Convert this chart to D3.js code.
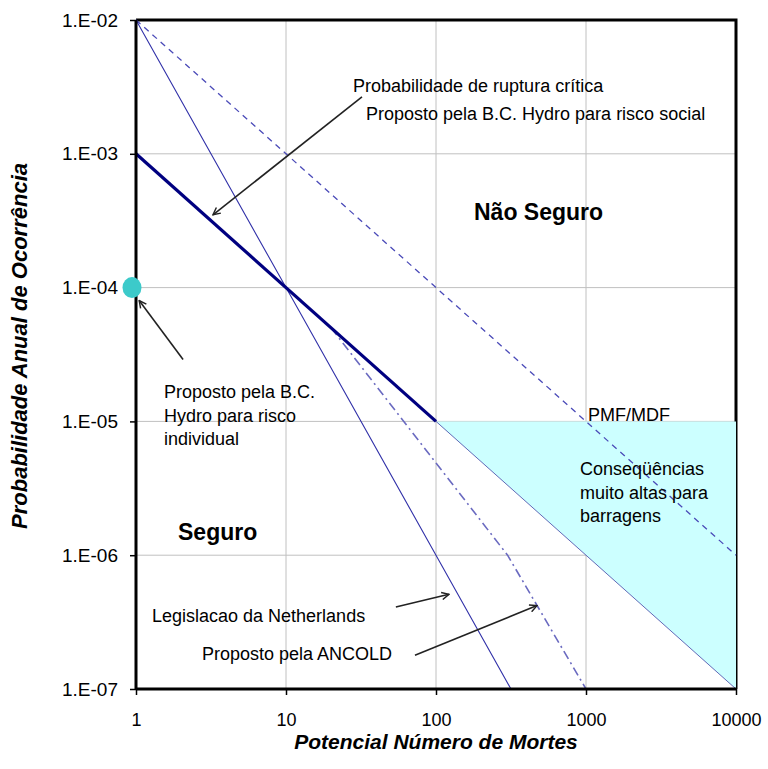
<!DOCTYPE html>
<html>
<head>
<meta charset="utf-8">
<script src="https://cdn.jsdelivr.net/npm/d3@7"></script>
<style>
  html, body { margin: 0; padding: 0; background: #fff; }
  svg { display: block; }
  text { font-family: "Liberation Sans", Arial, sans-serif; fill: #000; }
</style>
</head>
<body>
<svg id="chart" width="768" height="769"></svg>
<script>
// ---- data ----
const xTickValues = [1, 10, 100, 1000, 10000];
const xTickLabels = ["1", "10", "100", "1000", "10000"];
const yTickValues = [1e-2, 1e-3, 1e-4, 1e-5, 1e-6, 1e-7];
const yTickLabels = ["1.E-02", "1.E-03", "1.E-04", "1.E-05", "1.E-06", "1.E-07"];

// Legislacao da Netherlands (thin solid)
const netherlandsX = [1, 10, 100, 316];
const netherlandsY = [1e-2, 1e-4, 1e-6, 1e-7];
// Proposto pela B.C. Hydro para risco social (thick)
const bcHydroX = [1, 100];
const bcHydroY = [1e-3, 1e-5];
// PMF/MDF (dashed)
const pmfX = [1, 10000];
const pmfY = [1e-2, 1e-6];
// Proposto pela ANCOLD (dash-dot)
const ancoldX = [20, 300, 1000];
const ancoldY = [5e-5, 1e-6, 1e-7];
// Conseqüências muito altas para barragens (shaded region)
const regionX = [100, 10000, 10000];
const regionY = [1e-5, 1e-5, 1e-7];
// Proposto pela B.C. Hydro para risco individual (point)
const individualX = [1];
const individualY = [1e-4];

// ---- layout ----
const svg = d3.select("#chart");
const x = d3.scaleLog().domain([1, 10000]).range([136, 736]);
const y = d3.scaleLog().domain([1e-7, 1e-2]).range([689, 20]);

const pts = (xs, ys) => xs.map((v, i) => [x(v), y(ys[i])]);
const line = d3.line();

// arrow marker
svg.append("defs").append("marker")
  .attr("id", "arrow").attr("viewBox", "0 0 10 10")
  .attr("refX", 9).attr("refY", 5)
  .attr("markerWidth", 9).attr("markerHeight", 9)
  .attr("markerUnits", "userSpaceOnUse")
  .attr("orient", "auto")
  .append("path").attr("d", "M1,1 L9,5 L1,9")
  .attr("fill", "none").attr("stroke", "#222").attr("stroke-width", 1.6);

// gridlines
svg.append("g").selectAll("line").data(xTickValues.slice(1, -1)).join("line")
  .attr("x1", d => x(d)).attr("x2", d => x(d))
  .attr("y1", y(1e-2)).attr("y2", y(1e-7))
  .attr("stroke", "#c0c0c0").attr("stroke-width", 1);
svg.append("g").selectAll("line").data(yTickValues.slice(1, -1)).join("line")
  .attr("x1", x(1)).attr("x2", x(10000))
  .attr("y1", d => y(d)).attr("y2", d => y(d))
  .attr("stroke", "#c0c0c0").attr("stroke-width", 1);

// frame (top & right)
svg.append("path")
  .attr("d", `M${x(1)},${y(1e-2)} L${x(10000)},${y(1e-2)} L${x(10000)},${y(1e-7)}`)
  .attr("fill", "none").attr("stroke", "#000").attr("stroke-width", 3);

// shaded region
svg.append("path")
  .attr("d", line(pts(regionX, regionY)) + "Z")
  .attr("fill", "#ccffff").attr("stroke", "none");
svg.append("path")
  .attr("d", line([pts(regionX, regionY)[0], pts(regionX, regionY)[2]]))
  .attr("fill", "none").attr("stroke", "#2a2a99").attr("stroke-width", 1).attr("stroke-opacity", 0.7);

// series lines
svg.append("path").attr("d", line(pts(pmfX, pmfY)))
  .attr("fill", "none").attr("stroke", "#4a4ab8").attr("stroke-width", 1.3)
  .attr("stroke-dasharray", "6,5");
svg.append("path").attr("d", line(pts(ancoldX, ancoldY)))
  .attr("fill", "none").attr("stroke", "#6a6ac0").attr("stroke-width", 1.6)
  .attr("stroke-dasharray", "9,4,2,4");
svg.append("path").attr("d", line(pts(netherlandsX, netherlandsY)))
  .attr("fill", "none").attr("stroke", "#3030a8").attr("stroke-width", 1.1);
svg.append("path").attr("d", line(pts(bcHydroX, bcHydroY)))
  .attr("fill", "none").attr("stroke", "#000080").attr("stroke-width", 3.2);

// axes
const xAxis = d3.axisBottom(x).tickValues(xTickValues)
  .tickFormat((d, i) => xTickLabels[i]).tickSize(6).tickPadding(18);
const gx = svg.append("g").attr("transform", `translate(0,${y(1e-7)})`).call(xAxis);
gx.select(".domain").attr("stroke", "#000").attr("stroke-width", 3)
  .attr("d", `M${x(1)},0H${x(10000)}`);
gx.selectAll(".tick line").attr("stroke", "#000").attr("stroke-width", 1.5);
gx.selectAll(".tick text").style("font-family", "Liberation Sans, Arial, sans-serif")
  .style("font-size", "18px").attr("fill", "#000");

const yAxis = d3.axisLeft(y).tickValues(yTickValues)
  .tickFormat((d, i) => yTickLabels[i]).tickSize(6).tickPadding(12);
const gy = svg.append("g").attr("transform", `translate(${x(1)},0)`).call(yAxis);
gy.select(".domain").attr("stroke", "#000").attr("stroke-width", 3)
  .attr("d", `M0,${y(1e-2)}V${y(1e-7)}`);
gy.selectAll(".tick line").attr("stroke", "#000").attr("stroke-width", 1.5);
gy.selectAll(".tick text").style("font-family", "Liberation Sans, Arial, sans-serif")
  .style("font-size", "19px").attr("fill", "#000");

// individual risk point
svg.selectAll("ellipse.pt").data(individualX).join("ellipse")
  .attr("class", "pt")
  .attr("cx", (d) => x(d) - 4).attr("cy", (d, i) => y(individualY[i]))
  .attr("rx", 9.5).attr("ry", 10.5).attr("fill", "#3ccaca");

// arrows (data coordinates)
const arrows = [
  [[32.1, 2.66e-3], [3.26, 3.5e-4]],
  [[2.06, 2.9e-5], [1.05, 8.0e-5]],
  [[54, 4.1e-7], [122, 5.1e-7]],
  [[72.4, 1.79e-7], [471, 4.2e-7]]
];
svg.append("g").selectAll("line").data(arrows).join("line")
  .attr("x1", d => x(d[0][0])).attr("y1", d => y(d[0][1]))
  .attr("x2", d => x(d[1][0])).attr("y2", d => y(d[1][1]))
  .attr("stroke", "#222").attr("stroke-width", 1.6)
  .attr("marker-end", "url(#arrow)");

// annotation texts
const notes = [
  { t: ["Probabilidade de ruptura crítica"], px: 353, py: 92, s: 18, w: "normal" },
  { t: ["Proposto pela B.C. Hydro para risco social"], px: 366, py: 120, s: 18, w: "normal" },
  { t: ["Não Seguro"], px: 474, py: 220, s: 23, w: "bold" },
  { t: ["Proposto pela B.C.", "Hydro para risco", "individual"], px: 164, py: 398, s: 18, w: "normal" },
  { t: ["PMF/MDF"], px: 588, py: 421, s: 18, w: "normal" },
  { t: ["Conseqüências", "muito altas para", "barragens"], px: 580, py: 475, s: 18, w: "normal" },
  { t: ["Seguro"], px: 178, py: 540, s: 23, w: "bold" },
  { t: ["Legislacao da Netherlands"], px: 152, py: 622, s: 18, w: "normal" },
  { t: ["Proposto pela ANCOLD"], px: 202, py: 660, s: 18, w: "normal" }
];
notes.forEach(n => {
  const tx = svg.append("text").attr("x", n.px).attr("y", n.py)
    .style("font-size", n.s + "px").style("font-weight", n.w);
  n.t.forEach((line, i) => {
    tx.append("tspan").attr("x", n.px).attr("dy", i === 0 ? 0 : 23.5).text(line);
  });
});

// axis titles
svg.append("text").attr("x", 436).attr("y", 749).attr("text-anchor", "middle")
  .style("font-size", "21px").style("font-weight", "bold").style("font-style", "italic")
  .text("Potencial Número de Mortes");
svg.append("text").attr("transform", "translate(27,346) rotate(-90)").attr("text-anchor", "middle")
  .style("font-size", "22px").style("font-weight", "bold").style("font-style", "italic")
  .text("Probabilidade Anual de Ocorrência");
</script>
</body>
</html>
